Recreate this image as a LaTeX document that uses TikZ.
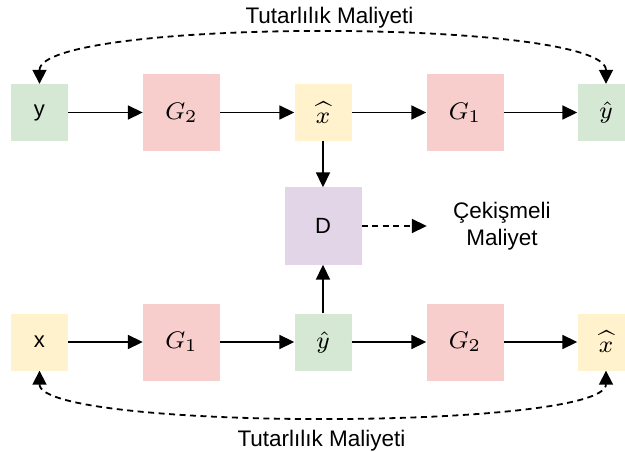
\documentclass[tikz,border=0pt]{standalone}
\usepackage{graphicx}
\usepackage[no-math]{fontspec}
\setmainfont{Liberation Sans}
\usetikzlibrary{arrows.meta}
\definecolor{cgreen}{HTML}{D5E8D4}
\definecolor{cred}{HTML}{F8CECC}
\definecolor{cyellow}{HTML}{FFF2CC}
\definecolor{cpurple}{HTML}{E1D5E7}
\newcommand{\mymathlbl}[1]{\scalebox{3.0}{\fontsize{8}{9.6}\selectfont$#1$}}
\begin{document}
\begin{tikzpicture}[x=1pt,y=-1pt,
  sbox/.style={draw=none, minimum width=57pt, minimum height=57pt, inner sep=0pt},
  gbox/.style={draw=none, fill=cred, minimum width=77pt, minimum height=77pt, inner sep=0pt},
  lbl/.style={font=\fontsize{22}{26}\selectfont},
  cost/.style={font=\fontsize{22.5}{27.6}\selectfont, inner sep=0pt},
  arr/.style={line width=1.8pt, -{Triangle[length=15pt,width=14pt]}},
  darr/.style={line width=1.8pt, dash pattern=on 6pt off 4.5pt, {Triangle[length=14pt,width=14pt]}-{Triangle[length=14pt,width=14pt]}},
  dsarr/.style={line width=1.8pt, dash pattern=on 6pt off 4.5pt, -{Triangle[length=15pt,width=14pt]}},
]
\path[use as bounding box, clip] (0,0) rectangle (625,452);
% top row
\node[sbox, fill=cgreen, lbl] (y) at (39.5,112.5) {y};
\node[gbox] (g2a) at (181.5,112.5) {\mymathlbl{G_2}};
\node[sbox, fill=cyellow] (xh1) at (323,112.5) {\mymathlbl{\widehat{x}}};
\node[gbox] (g1a) at (465,112.5) {\mymathlbl{G_1}};
\node[sbox, fill=cgreen] (yh1) at (606,112.5) {\mymathlbl{\hat{y}}};
% discriminator
\node[draw=none, fill=cpurple, minimum width=77pt, minimum height=77pt, inner sep=0pt, lbl] (d) at (323,226) {D};
\node[cost, align=center, minimum width=150pt] (cek) at (502,226) {Çekişmeli\\Maliyet};
% bottom row
\node[sbox, fill=cyellow, lbl] (x) at (39.5,342) {x};
\node[gbox] (g1b) at (181.5,342) {\mymathlbl{G_1}};
\node[sbox, fill=cgreen] (yh2) at (323,342) {\mymathlbl{\hat{y}}};
\node[gbox] (g2b) at (465,342) {\mymathlbl{G_2}};
\node[sbox, fill=cyellow] (xh2) at (606,342) {\mymathlbl{\widehat{x}}};
% labels
\node[cost, anchor=base] (tc1) at (329.5,24) {Tutarlılık Maliyeti};
\node[cost, anchor=base] (tc2) at (321.5,446) {Tutarlılık Maliyeti};
% arrows
\draw[arr] (y) -- (g2a);
\draw[arr] (g2a) -- (xh1);
\draw[arr] (xh1) -- (g1a);
\draw[arr] (g1a) -- (yh1);
\draw[arr] (x) -- (g1b);
\draw[arr] (g1b) -- (yh2);
\draw[arr] (yh2) -- (g2b);
\draw[arr] (g2b) -- (xh2);
\draw[arr] (xh1) -- (d);
\draw[arr] (yh2) -- (d);
\draw[dsarr] (d) -- (cek.west);
\draw[darr] (y.north) .. controls +(0,-66) and +(0,-66) .. (yh1.north);
\draw[darr] (x.south) .. controls +(0,60) and +(0,60) .. (xh2.south);
\end{tikzpicture}
\end{document}
